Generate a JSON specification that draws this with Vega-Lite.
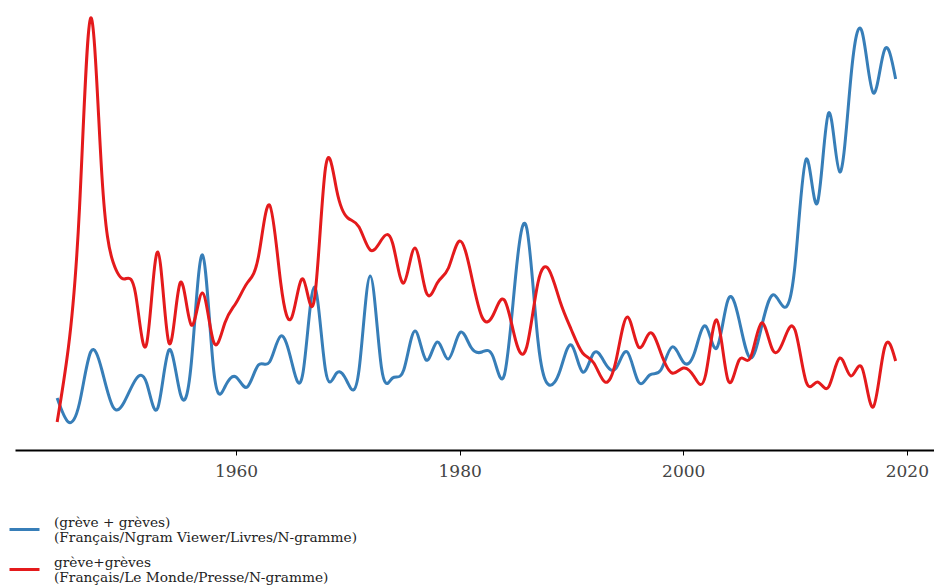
{
  "$schema": "https://vega.github.io/schema/vega-lite/v6.json",
  "width": 919,
  "height": 450,
  "autosize": {"type": "none"},
  "padding": {"left": 15, "top": 0, "right": 0, "bottom": 135},
  "background": "white",
  "config": {"view": {"stroke": null}},
  "datasets": {
    "blue": [
      {"year":1944,"v":52},{"year":1945,"v":28},{"year":1946,"v":47},{"year":1947,"v":98},{"year":1948,"v":80},{"year":1949,"v":43},
      {"year":1950,"v":48},{"year":1951,"v":70},{"year":1952,"v":67},{"year":1953,"v":42},{"year":1954,"v":100},{"year":1955,"v":57},
      {"year":1956,"v":87},{"year":1957,"v":195},{"year":1958,"v":80},{"year":1959,"v":63},{"year":1960,"v":73},{"year":1961,"v":63},
      {"year":1962,"v":85},{"year":1963,"v":88},{"year":1964,"v":114},{"year":1965,"v":87},{"year":1966,"v":78},{"year":1967,"v":163},
      {"year":1968,"v":80},{"year":1969,"v":77},{"year":1970,"v":67},{"year":1971,"v":80},{"year":1972,"v":174},{"year":1973,"v":83},
      {"year":1974,"v":72},{"year":1975,"v":80},{"year":1976,"v":119},{"year":1977,"v":90},{"year":1978,"v":108},{"year":1979,"v":91},
      {"year":1980,"v":117},{"year":1981,"v":103},{"year":1982,"v":98},{"year":1983,"v":93},{"year":1984,"v":75},{"year":1985,"v":173},
      {"year":1986,"v":222},{"year":1987,"v":110},{"year":1988,"v":65},{"year":1989,"v":80},{"year":1990,"v":105},{"year":1991,"v":78},
      {"year":1992,"v":97},{"year":1993,"v":87},{"year":1994,"v":82},{"year":1995,"v":98},{"year":1996,"v":68},{"year":1997,"v":75},
      {"year":1998,"v":80},{"year":1999,"v":103},{"year":2000,"v":88},{"year":2001,"v":97},{"year":2002,"v":124},{"year":2003,"v":102},
      {"year":2004,"v":150},{"year":2005,"v":130},{"year":2006,"v":92},{"year":2007,"v":123},{"year":2008,"v":155},{"year":2009,"v":143},
      {"year":2010,"v":185},{"year":2011,"v":291},{"year":2012,"v":247},{"year":2013,"v":337},{"year":2014,"v":278},{"year":2015,"v":373},
      {"year":2016,"v":418},{"year":2017,"v":357},{"year":2018,"v":400},{"year":2019,"v":371}
    ],
    "red": [
      {"year":1944,"v":28},{"year":1945,"v":102},{"year":1946,"v":242},{"year":1947,"v":432},{"year":1948,"v":275},{"year":1949,"v":188},
      {"year":1950,"v":171},{"year":1951,"v":157},{"year":1952,"v":106},{"year":1953,"v":198},{"year":1954,"v":107},{"year":1955,"v":167},
      {"year":1956,"v":125},{"year":1957,"v":157},{"year":1958,"v":108},{"year":1959,"v":127},{"year":1960,"v":147},{"year":1961,"v":167},
      {"year":1962,"v":193},{"year":1963,"v":245},{"year":1964,"v":167},{"year":1965,"v":133},{"year":1966,"v":171},{"year":1967,"v":150},
      {"year":1968,"v":282},{"year":1969,"v":260},{"year":1970,"v":232},{"year":1971,"v":223},{"year":1972,"v":200},{"year":1973,"v":210},
      {"year":1974,"v":207},{"year":1975,"v":167},{"year":1976,"v":202},{"year":1977,"v":158},{"year":1978,"v":167},{"year":1979,"v":182},
      {"year":1980,"v":209},{"year":1981,"v":177},{"year":1982,"v":133},{"year":1983,"v":135},{"year":1984,"v":150},{"year":1985,"v":110},
      {"year":1986,"v":103},{"year":1987,"v":167},{"year":1988,"v":180},{"year":1989,"v":148},{"year":1990,"v":120},{"year":1991,"v":97},
      {"year":1992,"v":87},{"year":1993,"v":68},{"year":1994,"v":90},{"year":1995,"v":133},{"year":1996,"v":103},{"year":1997,"v":117},
      {"year":1998,"v":97},{"year":1999,"v":77},{"year":2000,"v":82},{"year":2001,"v":73},{"year":2002,"v":75},{"year":2003,"v":130},
      {"year":2004,"v":70},{"year":2005,"v":90},{"year":2006,"v":92},{"year":2007,"v":127},{"year":2008,"v":100},{"year":2009,"v":110},
      {"year":2010,"v":120},{"year":2011,"v":68},{"year":2012,"v":68},{"year":2013,"v":63},{"year":2014,"v":92},{"year":2015,"v":74},
      {"year":2016,"v":82},{"year":2017,"v":43},{"year":2018,"v":102},{"year":2019,"v":89}
    ]
  },
  "encoding": {
    "x": {
      "field": "year", "type": "quantitative",
      "scale": {"domain": [1940.23, 2022.43], "nice": false, "zero": false},
      "axis": {
        "title": null, "grid": false, "values": [1960, 1980, 2000, 2020], "format": "d",
        "domainColor": "#000000", "domainWidth": 2,
        "tickColor": "#000000", "tickSize": 5, "tickWidth": 1,
        "labelFont": "DejaVu Serif", "labelFontSize": 17, "labelColor": "#444444",
        "labelPadding": 8, "labelFlush": false
      }
    },
    "y": {
      "field": "v", "type": "quantitative",
      "scale": {"domain": [0, 450], "nice": false, "zero": true},
      "axis": null
    },
    "color": {
      "field": "series", "type": "nominal",
      "scale": {
        "domain": ["(grève + grèves)|(Français/Ngram Viewer/Livres/N-gramme)", "grève+grèves|(Français/Le Monde/Presse/N-gramme)"],
        "range": ["#377eb8", "#e41a1c"]
      },
      "legend": {
        "title": null, "orient": "none", "legendX": -7, "legendY": 513,
        "direction": "vertical",
        "symbolType": "stroke", "symbolSize": 900, "symbolStrokeWidth": 3,
        "labelExpr": "split(datum.label, '|')",
        "labelFont": "DejaVu Serif", "labelFontSize": 13.7, "labelColor": "#222222",
        "labelBaseline": "bottom",
        "labelOffset": 13, "labelLimit": 0, "rowPadding": 8
      }
    }
  },
  "layer": [
    {
      "data": {"name": "blue"},
      "transform": [{"calculate": "'(grève + grèves)|(Français/Ngram Viewer/Livres/N-gramme)'", "as": "series"}],
      "mark": {"type": "line", "interpolate": "natural", "strokeWidth": 3, "clip": true}
    },
    {
      "data": {"name": "red"},
      "transform": [{"calculate": "'grève+grèves|(Français/Le Monde/Presse/N-gramme)'", "as": "series"}],
      "mark": {"type": "line", "interpolate": "natural", "strokeWidth": 3, "clip": true}
    }
  ]
}
